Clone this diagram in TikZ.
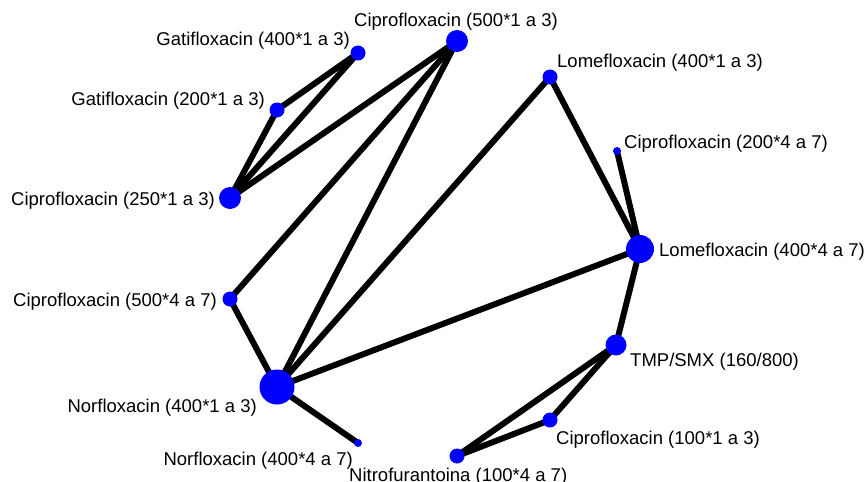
\documentclass[tikz,border=0pt]{standalone}
\usepackage{fontspec}
\setmainfont{Liberation Sans}
\usetikzlibrary{backgrounds}
\definecolor{nodeblue}{RGB}{0,0,255}
\tikzset{
  drug/.style={circle, fill=nodeblue, draw=none, inner sep=0pt, minimum size=#1},
  tag/.style={inner sep=0pt, font=\fontsize{18.5}{22}\selectfont, text=black, yshift=-2pt},
  link/.style={line width=6pt, black}
}
\begin{document}
\begin{tikzpicture}[x=1pt, y=-1pt]
\useasboundingbox (0,0) rectangle (868,482);

% treatments (circle size ~ number of patients)
\node[drug=22pt] (cip500a) at (457,41) {};
\node[drug=15pt] (gat400)  at (358,53) {};
\node[drug=15pt] (gat200)  at (277,110) {};
\node[drug=22pt] (cip250)  at (230,198) {};
\node[drug=15pt] (cip500b) at (230,299) {};
\node[drug=35pt] (nor400a) at (277,387) {};
\node[drug=8pt]  (nor400b) at (358,443) {};
\node[drug=15pt] (nitro)   at (457,456) {};
\node[drug=15pt] (cip100)  at (550,420) {};
\node[drug=21pt] (tmp)     at (616,345) {};
\node[drug=28pt] (lom400b) at (640,249) {};
\node[drug=8pt]  (cip200)  at (617,151) {};
\node[drug=15pt] (lom400a) at (550,77) {};

% direct comparisons
\begin{scope}[on background layer]
\draw[link] (gat400.center) -- (gat200.center);
\draw[link] (gat400.center) -- (cip250.center);
\draw[link] (gat200.center) -- (cip250.center);
\draw[link] (cip500a.center) -- (cip250.center);
\draw[link] (cip500a.center) -- (cip500b.center);
\draw[link] (cip500a.center) -- (nor400a.center);
\draw[link] (lom400a.center) -- (nor400a.center);
\draw[link] (lom400a.center) -- (lom400b.center);
\draw[link] (cip200.center) -- (lom400b.center);
\draw[link] (lom400b.center) -- (nor400a.center);
\draw[link] (lom400b.center) -- (tmp.center);
\draw[link] (tmp.center) -- (cip100.center);
\draw[link] (tmp.center) -- (nitro.center);
\draw[link] (cip100.center) -- (nitro.center);
\draw[link] (cip500b.center) -- (nor400a.center);
\draw[link] (nor400a.center) -- (nor400b.center);
\end{scope}

% labels
\node[tag, anchor=center] (l-cip500a) at (456,20)  {Ciprofloxacin (500*1 a 3)};
\node[tag, anchor=east]   (l-gat400)  at (350,39)  {Gatifloxacin (400*1 a 3)};
\node[tag, anchor=east]   (l-gat200)  at (265,99)  {Gatifloxacin (200*1 a 3)};
\node[tag, anchor=east]   (l-cip250)  at (215,199) {Ciprofloxacin (250*1 a 3)};
\node[tag, anchor=east]   (l-cip500b) at (217,300) {Ciprofloxacin (500*4 a 7)};
\node[tag, anchor=east]   (l-nor400a) at (257,406) {Norfloxacin (400*1 a 3)};
\node[tag, anchor=east]   (l-nor400b) at (353,459) {Norfloxacin (400*4 a 7)};
\node[tag, anchor=west]   (l-nitro)   at (349,475) {Nitrofurantoina (100*4 a 7)};
\node[tag, anchor=west]   (l-cip100)  at (556,438) {Ciprofloxacin (100*1 a 3)};
\node[tag, anchor=west]   (l-tmp)     at (630,360) {TMP/SMX (160/800)};
\node[tag, anchor=west]   (l-lom400b) at (659,250) {Lomefloxacin (400*4 a 7)};
\node[tag, anchor=west]   (l-cip200)  at (624,142) {Ciprofloxacin (200*4 a 7)};
\node[tag, anchor=west]   (l-lom400a) at (557,61)  {Lomefloxacin (400*1 a 3)};
\end{tikzpicture}
\end{document}
